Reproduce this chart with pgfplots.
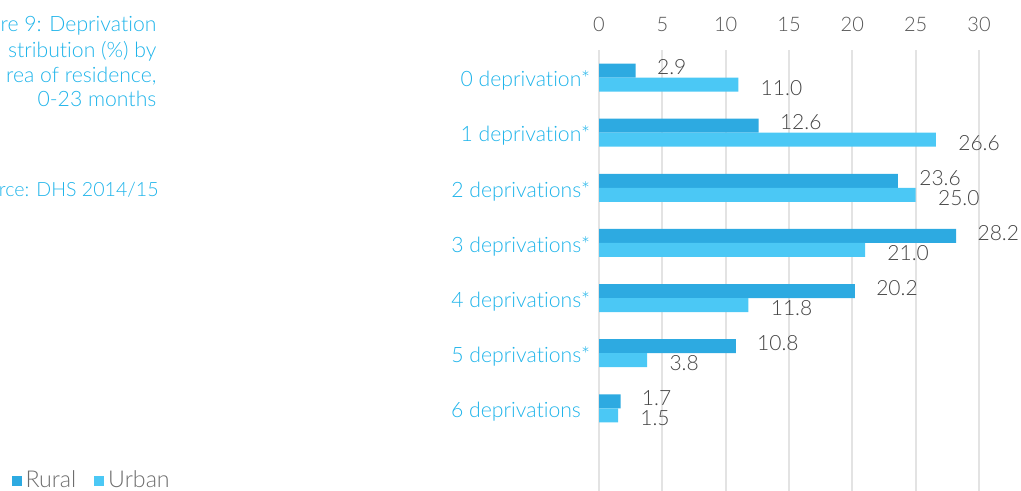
\documentclass[border=0pt]{standalone}
\usepackage{fontspec}
\setmainfont{Lato Light}[Ligatures=NoCommon]
\usepackage{pgfplots}
\usepackage{pgfplotstable}
\pgfplotsset{compat=1.18}
\definecolor{rural}{HTML}{2DAAE1}
\definecolor{urban}{HTML}{4BC8F5}
\definecolor{titlecyan}{HTML}{1FB4EA}
\definecolor{tickgray}{HTML}{555555}
\definecolor{valgray}{HTML}{444444}
\definecolor{leggray}{HTML}{6D6D6D}
\definecolor{gridgray}{HTML}{E3E3E3}

\pgfplotstableread{
idx rural urban
0 2.9 11.0
1 12.6 26.6
2 23.6 25.0
3 28.2 21.0
4 20.2 11.8
5 10.8 3.8
6 1.7 1.5
}\data

\begin{document}
\begin{tikzpicture}
\clip (0,0) rectangle (510.5pt,245.5pt);
\begin{scope}[every node/.style={font=\fontsize{10.6}{12}\selectfont, text=titlecyan, inner sep=0pt, anchor=base east}]
\node at (78.4pt,229.65pt) {re 9: Deprivation};
\node at (78.4pt,216.5pt) {stribution (\%) by};
\node at (78.4pt,204.35pt) {rea of residence,};
\node at (78.4pt,192.15pt) {0-23 months};
\node[font=\fontsize{9.8}{12}\selectfont] at (79.5pt,147pt) {rce: DHS 2014/15};
\end{scope}
\begin{axis}[
  at={(299.5pt,220.5pt)}, anchor=north west,
  scale only axis, width=190pt, height=220.5pt,
  xbar, bar width=7pt,
  xmin=0, xmax=30, ymin=-0.5, ymax=7.5, y dir=reverse,
  xtick={0,5,...,30}, xticklabel pos=upper,
  ytick={0,...,6},
  yticklabels={0 deprivation*,1 deprivation*,2 deprivations*,3 deprivations*,4 deprivations*,5 deprivations*,6 deprivations\hphantom{*}},
  axis line style={draw=none}, major tick length=0pt,
  xmajorgrids, grid style={gridgray, line width=1pt},
  clip=false,
  /pgf/number format/assume math mode=true,
  xticklabel style={font=\fontsize{10}{12}\selectfont, text=tickgray, yshift=5.7pt},
  yticklabel style={font=\fontsize{10.6}{12}\selectfont, text=titlecyan, xshift=-1pt, yshift=-1.6pt},
  nodes near coords,
  nodes near coords style={font=\fontsize{10.5}{12}\selectfont, text=valgray, anchor=west, inner sep=0pt,
    /pgf/number format/fixed, /pgf/number format/fixed zerofill, /pgf/number format/precision=1,
    /pgf/number format/assume math mode=true},
  legend style={draw=none, fill=none, inner sep=0pt, at={(-1.547,0.0227)}, anchor=west,
    font=\fontsize{11.6}{12}\selectfont, text=leggray,
    /tikz/every even column/.append style={column sep=7pt}},
  legend columns=2,
]
\addplot[draw=none, fill=rural, bar shift=3.5pt,
  nodes near coords style={xshift=10.5pt, yshift=1.6pt},
  legend image code/.code={\fill[rural] (0pt,-2.5pt) rectangle (5pt,2.5pt);}]
  table[x=rural, y=idx] {\data};
\addplot[draw=none, fill=urban, bar shift=-3.5pt,
  nodes near coords style={xshift=11pt, yshift=-1.6pt},
  legend image code/.code={\fill[urban] (0pt,-2.5pt) rectangle (5pt,2.5pt);}]
  table[x=urban, y=idx] {\data};
\legend{Rural, Urban}
\end{axis}
\end{tikzpicture}
\end{document}
